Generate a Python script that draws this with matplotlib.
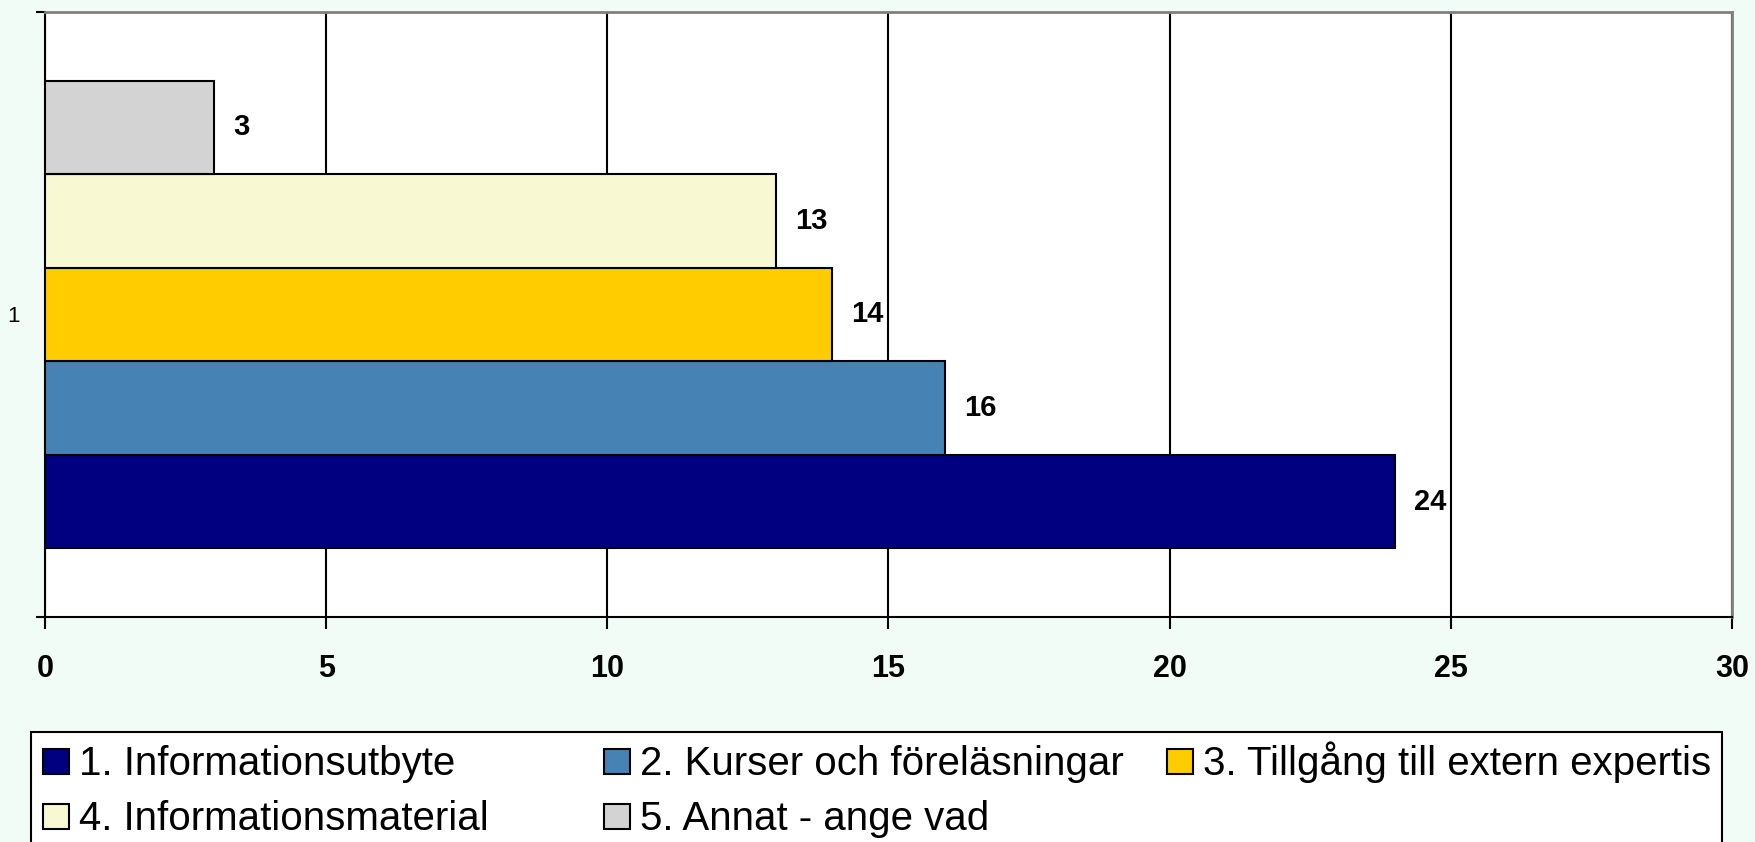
import numpy as np
import matplotlib
matplotlib.use("Agg")
import matplotlib.pyplot as plt
from matplotlib.patches import Rectangle

# data
series = ["1. Informationsutbyte", "2. Kurser och föreläsningar", "3. Tillgång till extern expertis",
          "4. Informationsmaterial", "5. Annat - ange vad"]
values = [24, 16, 14, 13, 3]
colors = ["#000080", "#4682B4", "#FFCC00", "#F8F8D2", "#D3D3D3"]
category = "1"
xticks = [0, 5, 10, 15, 20, 25, 30]

plt.rcParams["font.family"] = ["Liberation Sans", "DejaVu Sans"]
bg = "#F2FCF6"
W, H = 1756, 842

fig = plt.figure(figsize=(W / 100, H / 100), dpi=100, facecolor=bg)
ax = fig.add_axes([45 / W, 1 - 617 / H, (1732 - 45) / W, (617 - 12) / H])
ax.set_facecolor("white")

h = 0.1547
for i, (name, v, c) in enumerate(zip(series, values, colors)):
    y = (i - 2) * h
    ax.barh(y, v, height=h, color=c, edgecolor="black", linewidth=1.5, label=name, zorder=3)
    ax.text(v + 0.34, y, str(v), va="center", ha="left", fontsize=21, fontweight="bold", zorder=4)

ax.set_xlim(0, 30)
ax.set_ylim(-0.5, 0.5)
ax.set_xticks(xticks)
ax.set_xticklabels([str(t) for t in xticks], fontsize=22, fontweight="bold")
ax.tick_params(axis="x", direction="out", length=8.5, width=1.5, pad=18)
ax.set_yticks([-0.5, 0.5])
ax.set_yticklabels(["", ""])
ax.tick_params(axis="y", direction="out", length=6.5, width=1.5)
ax.set_yticks([0], minor=True)
ax.set_yticklabels([category], minor=True, fontsize=16)
ax.tick_params(axis="y", which="minor", length=0, pad=18)
ax.grid(axis="x", color="black", linewidth=1.5, zorder=0)

for s in ["left", "bottom"]:
    ax.spines[s].set_color("black")
    ax.spines[s].set_linewidth(1.5)
for s in ["top", "right"]:
    ax.spines[s].set_color("#808080")
    ax.spines[s].set_linewidth(2)

# legend: box runs off the bottom edge, equal-width columns filled row by row
fig.patches.append(Rectangle((31 / W, 1 - 860 / H), (1722 - 31) / W, (860 - 732) / H,
                             transform=fig.transFigure, facecolor="white", edgecolor="black",
                             linewidth=1.5, zorder=1))
col_x = [43, 604, 1167]
row_base = [775, 830]
for i, (name, c) in enumerate(zip(series, colors)):
    x, yb = col_x[i % 3], row_base[i // 3]
    fig.patches.append(Rectangle((x / W, 1 - (yb - 1) / H), 26 / W, 25 / H,
                                 transform=fig.transFigure, facecolor=c, edgecolor="black",
                                 linewidth=1.5, zorder=2))
    fig.text((x + 36) / W, 1 - yb / H, name, fontsize=29, va="baseline", ha="left", zorder=3)

fig.savefig("out.png", dpi=100, facecolor=fig.get_facecolor())
